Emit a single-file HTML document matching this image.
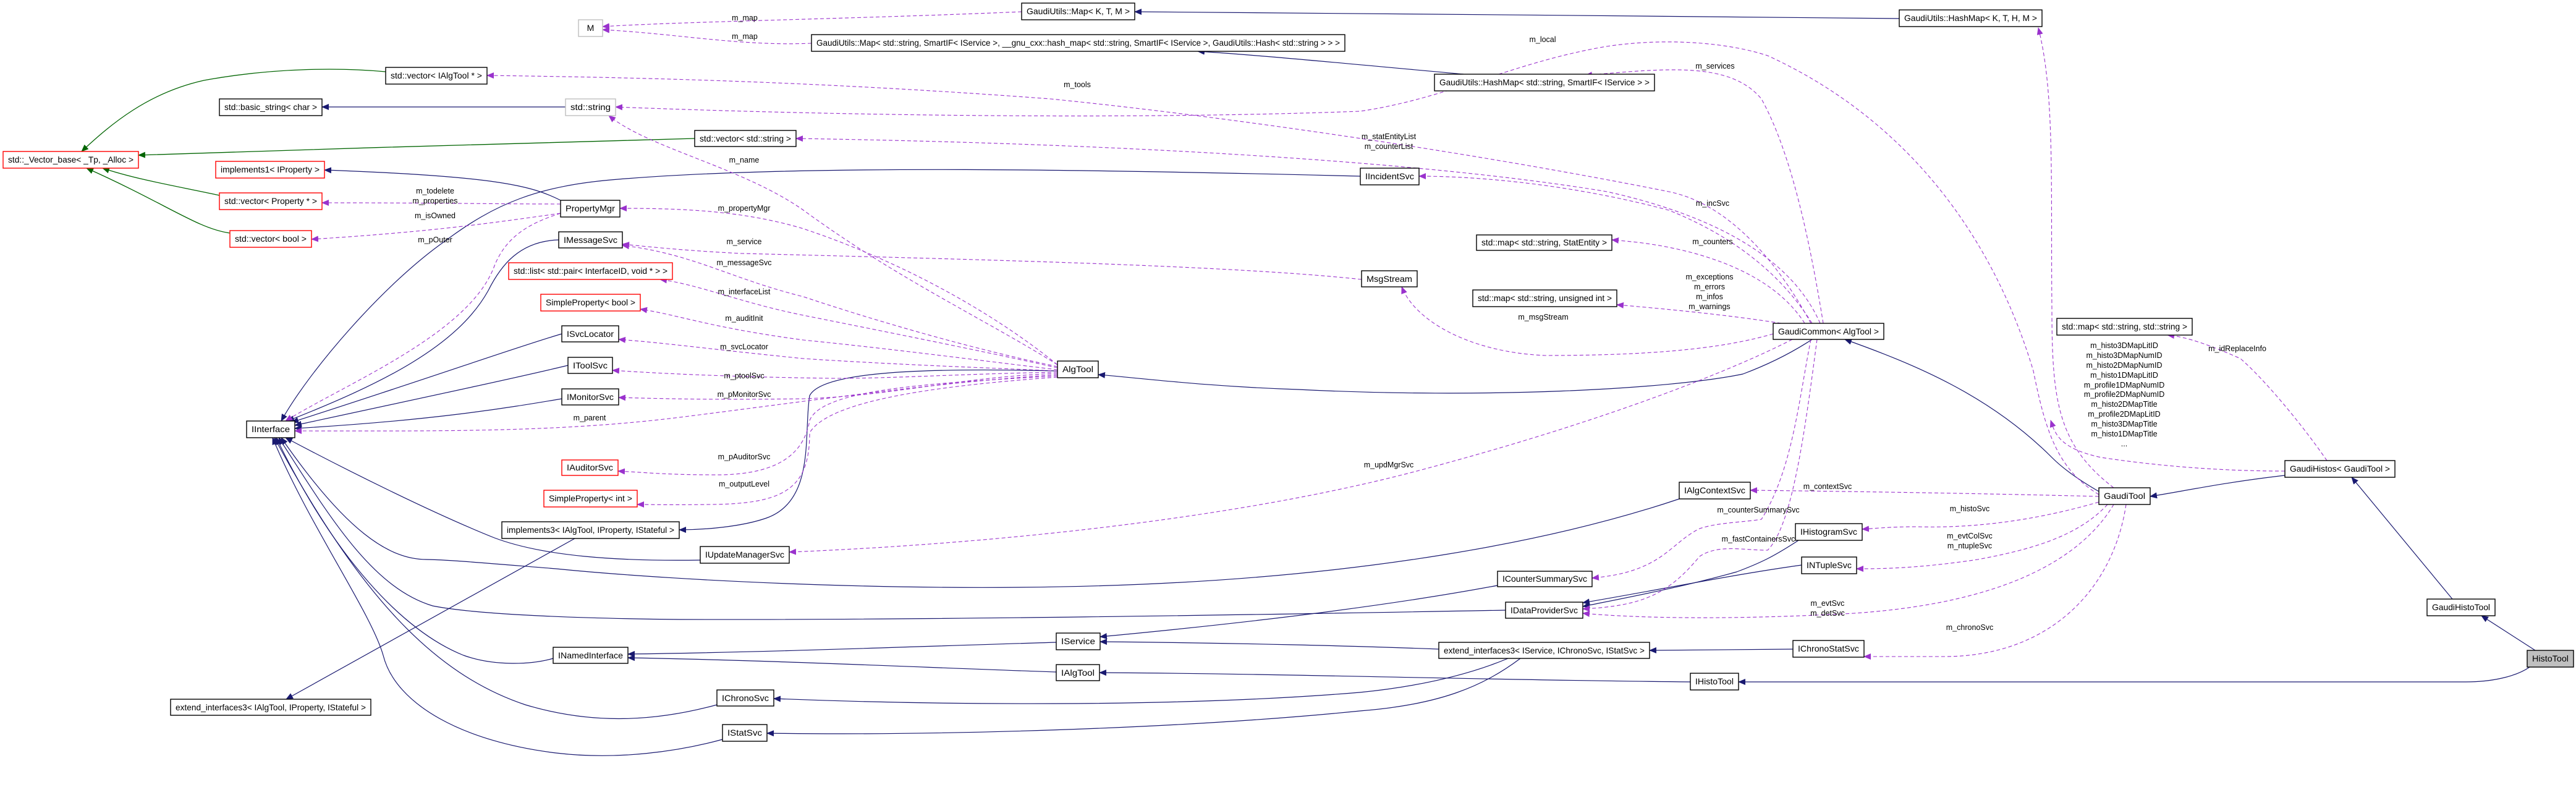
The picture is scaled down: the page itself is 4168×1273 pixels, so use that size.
<!DOCTYPE html>
<html><head><meta charset="utf-8">
<style>
html,body{margin:0;padding:0;background:#fff;}
svg{display:block;}
text{font-family:"Liberation Sans",sans-serif;}
.b{fill:#fff;stroke:#000;stroke-width:1.4;}
.g{fill:#fff;stroke:#bfbfbf;stroke-width:1.4;}
.r{fill:#fff;stroke:#ff0000;stroke-width:1.4;}
.bt{font-size:14px;fill:#000;}
.lb{font-size:12.5px;fill:#000;}
.n{fill:none;stroke:#191970;stroke-width:1.2;}
.gr{fill:none;stroke:#006400;stroke-width:1.3;}
.p{fill:none;stroke:#9a32cd;stroke-width:1.1;stroke-dasharray:6,4;}
</style></head><body>
<svg width="4168" height="1273" viewBox="0 0 4168 1273" xmlns="http://www.w3.org/2000/svg">
<defs>
<marker id="an" markerWidth="12" markerHeight="10" refX="11" refY="5" orient="auto" markerUnits="userSpaceOnUse"><path d="M0,0 L12,5 L0,10 z" fill="#191970"/></marker>
<marker id="ag" markerWidth="12" markerHeight="10" refX="11" refY="5" orient="auto" markerUnits="userSpaceOnUse"><path d="M0,0 L12,5 L0,10 z" fill="#006400"/></marker>
<marker id="ap" markerWidth="12" markerHeight="10" refX="11" refY="5" orient="auto" markerUnits="userSpaceOnUse"><path d="M0,0 L12,5 L0,10 z" fill="#9a32cd"/></marker>
</defs>

<!-- green edges -->
<g class="gr" marker-end="url(#ag)">
<path d="M624,116 C560,110 450,108 330,130 C240,150 180,200 132,245"/>
<path d="M1124,224 C900,232 500,240 224,251"/>
<path d="M355,316 C280,300 220,290 166,272"/>
<path d="M372,377 C320,370 270,330 140,272"/>
</g>

<!-- navy edges -->
<g class="n" marker-end="url(#an)">
<path d="M915,173 L521,173"/>
<path d="M907,324 C860,300 800,285 525,275"/>
<path d="M2201,285 C1800,275 1300,265 1000,290 C870,300 800,330 720,390 C620,460 500,600 455,681"/>
<path d="M904,388 C840,390 810,430 790,470 C740,560 620,620 465,681"/>
<path d="M909,540 C840,560 700,610 472,683"/>
<path d="M919,591 C840,610 700,640 477,688"/>
<path d="M909,645 C820,660 700,680 477,693"/>
<path d="M1711,600 C1500,595 1330,600 1310,640 C1300,700 1320,810 1240,838 C1200,852 1140,857 1099,857"/>
<path d="M930,871 L463,1131"/>
<path d="M1133,906 C1000,908 880,900 800,870 C700,830 560,760 462,708"/>
<path d="M2717,807 C2500,880 2200,930 1850,945 C1500,960 1100,940 900,920 C800,912 720,905 690,905 C630,905 560,860 455,708"/>
<path d="M2436,987 C2000,995 1500,1003 1100,1002 C900,1000 760,992 700,980 C600,950 530,830 451,708"/>
<path d="M895,1065 C860,1075 800,1078 750,1060 C650,1020 540,900 447,708"/>
<path d="M1160,1140 C1050,1170 950,1170 850,1140 C700,1090 580,960 444,708"/>
<path d="M1169,1196 C1100,1215 1000,1230 900,1218 C750,1200 640,1140 620,1060 C600,990 500,850 441,708"/>
<path d="M1709,1039 C1500,1045 1250,1055 1016,1058"/>
<path d="M1709,1087 C1500,1080 1250,1068 1016,1064"/>
<path d="M2328,1050 C2200,1045 2000,1040 1780,1038"/>
<path d="M2423,947 C2300,970 2100,1000 1780,1030"/>
<path d="M2440,1065 C2380,1090 2300,1110 2200,1120 C1900,1145 1500,1140 1252,1130"/>
<path d="M2460,1065 C2400,1110 2330,1140 2200,1150 C1900,1180 1500,1190 1241,1186"/>
<path d="M2901,1050 L2669,1052"/>
<path d="M2735,1103 C2400,1100 2100,1090 1779,1088"/>
<path d="M4093,1079 C4070,1095 4030,1103 3990,1103 L2813,1103"/>
<path d="M4102,1052 L4015,996"/>
<path d="M3968,969 L3805,772"/>
<path d="M3697,769 C3600,780 3530,795 3479,803"/>
<path d="M3396,795 C3370,780 3340,760 3320,740 C3220,640 3100,590 2985,549"/>
<path d="M2932,549 C2900,570 2860,590 2820,605 C2700,630 2400,645 2100,630 C1950,625 1850,612 1777,606"/>
<path d="M2910,874 C2870,900 2850,910 2810,925 C2720,950 2640,965 2561,981"/>
<path d="M2915,914 C2800,930 2680,955 2561,975"/>
<path d="M2368,120 C2200,105 2050,90 1938,83"/>
<path d="M3073,30 C2700,26 2200,22 1836,19"/>
</g>

<!-- purple dashed edges -->
<g class="p" marker-end="url(#ap)">
<path d="M1313,70 C1200,75 1100,55 975,48"/>
<path d="M1653,19 C1400,30 1100,35 975,43"/>
<path d="M2930,523 C2880,430 2800,330 2700,310 C2400,250 2000,190 1700,160 C1300,130 1000,125 788,122"/>
<path d="M3396,800 C3330,760 3310,700 3290,600 C3230,400 3100,200 2860,90 C2800,70 2700,60 2600,75 C2450,100 2340,160 2200,180 C1800,195 1300,185 996,173"/>
<path d="M2950,523 C2930,400 2900,250 2850,160 C2800,100 2700,110 2565,122"/>
<path d="M3420,789 C3330,720 3320,650 3320,500 C3318,300 3325,150 3298,45"/>
<path d="M3697,762 C3600,762 3500,755 3400,740 C3330,725 3325,700 3318,680"/>
<path d="M3765,745 C3720,680 3660,610 3625,580 C3580,560 3540,545 3507,542"/>
<path d="M2945,523 C2900,420 2780,350 2600,310 C2300,260 1800,232 1288,224"/>
<path d="M2932,523 C2880,440 2800,380 2700,340 C2550,300 2400,285 2296,285"/>
<path d="M2920,523 C2880,460 2800,420 2700,400 C2660,392 2630,390 2608,388"/>
<path d="M2882,523 C2800,510 2700,500 2616,493"/>
<path d="M2869,540 C2800,560 2700,575 2500,575 C2380,570 2290,520 2268,464"/>
<path d="M2203,452 C2000,430 1600,420 1200,410 C1100,405 1040,398 1007,395"/>
<path d="M1711,590 C1600,520 1450,450 1300,340 C1200,270 1050,240 985,187"/>
<path d="M1711,590 C1600,500 1450,420 1300,370 C1200,340 1100,337 1003,337"/>
<path d="M1711,593 C1600,570 1450,530 1300,480 C1180,450 1120,410 1007,397"/>
<path d="M1711,595 C1600,570 1450,540 1300,510 C1200,490 1130,460 1068,452"/>
<path d="M1711,598 C1600,585 1450,565 1300,550 C1150,530 1100,510 1036,500"/>
<path d="M1711,600 C1600,595 1450,590 1300,580 C1150,565 1080,555 1001,549"/>
<path d="M1711,602 C1550,605 1450,612 1350,612 C1200,610 1080,605 991,599"/>
<path d="M1711,604 C1550,610 1450,640 1300,645 C1150,647 1080,645 1001,643"/>
<path d="M1711,606 C1500,620 1300,650 1100,675 C900,700 700,697 477,697"/>
<path d="M1711,608 C1500,620 1330,630 1310,680 C1300,740 1250,770 1150,768 C1080,768 1040,764 1000,762"/>
<path d="M1711,610 C1500,625 1340,650 1310,700 C1310,790 1270,815 1150,816 C1080,817 1050,816 1031,816"/>
<path d="M907,345 C860,360 820,380 800,430 C760,540 560,620 462,681"/>
<path d="M907,330 C800,330 700,328 521,328"/>
<path d="M907,345 C800,360 700,375 504,387"/>
<path d="M2900,549 C2800,600 2600,680 2300,760 C2000,840 1600,880 1277,893"/>
<path d="M3396,803 C3200,798 3000,795 2832,793"/>
<path d="M3396,812 C3300,840 3200,855 3100,852 C3060,852 3030,855 3013,856"/>
<path d="M3410,816 C3360,870 3280,890 3200,905 C3100,920 3040,920 3004,920"/>
<path d="M3420,816 C3370,900 3250,975 3000,992 C2800,1003 2650,1000 2561,992"/>
<path d="M3440,816 C3420,950 3320,1060 3150,1062 C3080,1062 3040,1062 3016,1062"/>
<path d="M2930,549 C2910,650 2900,760 2850,840 C2820,845 2780,845 2750,855 C2700,880 2690,925 2576,935"/>
<path d="M2940,549 C2920,700 2900,850 2860,890 C2820,890 2780,880 2750,900 C2700,960 2660,980 2561,985"/>
</g>

<!-- boxes -->
<g>
<rect class="g" x="936" y="32" width="39" height="27"/><text class="bt" x="955.5" y="50" text-anchor="middle">M</text>
<rect class="b" x="1653" y="5" width="183" height="27"/><text class="bt" x="1661" y="23" textLength="167" lengthAdjust="spacingAndGlyphs">GaudiUtils::Map&lt; K, T, M &gt;</text>
<rect class="b" x="1313" y="56" width="863" height="27"/><text class="bt" x="1321" y="74" textLength="847" lengthAdjust="spacingAndGlyphs">GaudiUtils::Map&lt; std::string, SmartIF&lt; IService &gt;, __gnu_cxx::hash_map&lt; std::string, SmartIF&lt; IService &gt;, GaudiUtils::Hash&lt; std::string &gt; &gt; &gt;</text>
<rect class="b" x="3073" y="16" width="231" height="27"/><text class="bt" x="3081" y="34" textLength="215" lengthAdjust="spacingAndGlyphs">GaudiUtils::HashMap&lt; K, T, H, M &gt;</text>
<rect class="b" x="2321" y="120" width="356" height="27"/><text class="bt" x="2329" y="138" textLength="340" lengthAdjust="spacingAndGlyphs">GaudiUtils::HashMap&lt; std::string, SmartIF&lt; IService &gt; &gt;</text>
<rect class="b" x="624" y="109" width="164" height="27"/><text class="bt" x="632" y="127" textLength="148" lengthAdjust="spacingAndGlyphs">std::vector&lt; IAlgTool * &gt;</text>
<rect class="b" x="355" y="160" width="166" height="27"/><text class="bt" x="363" y="178" textLength="150" lengthAdjust="spacingAndGlyphs">std::basic_string&lt; char &gt;</text>
<rect class="g" x="915" y="160" width="81" height="27"/><text class="bt" x="923" y="178" textLength="65" lengthAdjust="spacingAndGlyphs">std::string</text>
<rect class="b" x="1124" y="211" width="164" height="26"/><text class="bt" x="1132" y="229" textLength="148" lengthAdjust="spacingAndGlyphs">std::vector&lt; std::string &gt;</text>
<rect class="r" x="5" y="245" width="219" height="27"/><text class="bt" x="13" y="263" textLength="203" lengthAdjust="spacingAndGlyphs">std::_Vector_base&lt; _Tp, _Alloc &gt;</text>
<rect class="r" x="349" y="261" width="176" height="27"/><text class="bt" x="357" y="279" textLength="160" lengthAdjust="spacingAndGlyphs">implements1&lt; IProperty &gt;</text>
<rect class="r" x="355" y="312" width="166" height="27"/><text class="bt" x="363" y="330" textLength="150" lengthAdjust="spacingAndGlyphs">std::vector&lt; Property * &gt;</text>
<rect class="b" x="907" y="324" width="96" height="27"/><text class="bt" x="915" y="342" textLength="80" lengthAdjust="spacingAndGlyphs">PropertyMgr</text>
<rect class="r" x="372" y="373" width="132" height="27"/><text class="bt" x="380" y="391" textLength="116" lengthAdjust="spacingAndGlyphs">std::vector&lt; bool &gt;</text>
<rect class="b" x="904" y="375" width="103" height="26"/><text class="bt" x="912" y="393" textLength="87" lengthAdjust="spacingAndGlyphs">IMessageSvc</text>
<rect class="r" x="823" y="425" width="265" height="27"/><text class="bt" x="831" y="443" textLength="249" lengthAdjust="spacingAndGlyphs">std::list&lt; std::pair&lt; InterfaceID, void * &gt; &gt;</text>
<rect class="r" x="875" y="476" width="161" height="27"/><text class="bt" x="883" y="494" textLength="145" lengthAdjust="spacingAndGlyphs">SimpleProperty&lt; bool &gt;</text>
<rect class="b" x="909" y="527" width="92" height="26"/><text class="bt" x="917" y="545" textLength="76" lengthAdjust="spacingAndGlyphs">ISvcLocator</text>
<rect class="b" x="919" y="578" width="72" height="26"/><text class="bt" x="927" y="596" textLength="56" lengthAdjust="spacingAndGlyphs">IToolSvc</text>
<rect class="b" x="909" y="629" width="92" height="26"/><text class="bt" x="917" y="647" textLength="76" lengthAdjust="spacingAndGlyphs">IMonitorSvc</text>
<rect class="b" x="399" y="681" width="78" height="27"/><text class="bt" x="407" y="699" textLength="62" lengthAdjust="spacingAndGlyphs">IInterface</text>
<rect class="r" x="909" y="744" width="91" height="25"/><text class="bt" x="917" y="761" textLength="75" lengthAdjust="spacingAndGlyphs">IAuditorSvc</text>
<rect class="r" x="880" y="793" width="151" height="27"/><text class="bt" x="888" y="811" textLength="135" lengthAdjust="spacingAndGlyphs">SimpleProperty&lt; int &gt;</text>
<rect class="b" x="812" y="844" width="287" height="27"/><text class="bt" x="820" y="862" textLength="271" lengthAdjust="spacingAndGlyphs">implements3&lt; IAlgTool, IProperty, IStateful &gt;</text>
<rect class="b" x="1133" y="884" width="144" height="27"/><text class="bt" x="1141" y="902" textLength="128" lengthAdjust="spacingAndGlyphs">IUpdateManagerSvc</text>
<rect class="b" x="895" y="1047" width="121" height="26"/><text class="bt" x="903" y="1065" textLength="105" lengthAdjust="spacingAndGlyphs">INamedInterface</text>
<rect class="b" x="276" y="1131" width="324" height="26"/><text class="bt" x="284" y="1149" textLength="308" lengthAdjust="spacingAndGlyphs">extend_interfaces3&lt; IAlgTool, IProperty, IStateful &gt;</text>
<rect class="b" x="1160" y="1116" width="92" height="26"/><text class="bt" x="1168" y="1134" textLength="76" lengthAdjust="spacingAndGlyphs">IChronoSvc</text>
<rect class="b" x="1169" y="1172" width="72" height="27"/><text class="bt" x="1177" y="1190" textLength="56" lengthAdjust="spacingAndGlyphs">IStatSvc</text>
<rect class="b" x="2201" y="272" width="95" height="27"/><text class="bt" x="2209" y="290" textLength="79" lengthAdjust="spacingAndGlyphs">IIncidentSvc</text>
<rect class="b" x="2389" y="380" width="219" height="25"/><text class="bt" x="2397" y="397" textLength="203" lengthAdjust="spacingAndGlyphs">std::map&lt; std::string, StatEntity &gt;</text>
<rect class="b" x="2203" y="438" width="90" height="26"/><text class="bt" x="2211" y="456" textLength="74" lengthAdjust="spacingAndGlyphs">MsgStream</text>
<rect class="b" x="2383" y="469" width="233" height="27"/><text class="bt" x="2391" y="487" textLength="217" lengthAdjust="spacingAndGlyphs">std::map&lt; std::string, unsigned int &gt;</text>
<rect class="b" x="1711" y="584" width="66" height="27"/><text class="bt" x="1719" y="602" textLength="50" lengthAdjust="spacingAndGlyphs">AlgTool</text>
<rect class="b" x="2717" y="780" width="115" height="27"/><text class="bt" x="2725" y="798" textLength="99" lengthAdjust="spacingAndGlyphs">IAlgContextSvc</text>
<rect class="b" x="2423" y="924" width="153" height="25"/><text class="bt" x="2431" y="941" textLength="137" lengthAdjust="spacingAndGlyphs">ICounterSummarySvc</text>
<rect class="b" x="2436" y="974" width="125" height="26"/><text class="bt" x="2444" y="992" textLength="109" lengthAdjust="spacingAndGlyphs">IDataProviderSvc</text>
<rect class="b" x="1709" y="1024" width="71" height="27"/><text class="bt" x="1717" y="1042" textLength="55" lengthAdjust="spacingAndGlyphs">IService</text>
<rect class="b" x="2328" y="1039" width="341" height="26"/><text class="bt" x="2336" y="1057" textLength="325" lengthAdjust="spacingAndGlyphs">extend_interfaces3&lt; IService, IChronoSvc, IStatSvc &gt;</text>
<rect class="b" x="1709" y="1075" width="70" height="26"/><text class="bt" x="1717" y="1093" textLength="54" lengthAdjust="spacingAndGlyphs">IAlgTool</text>
<rect class="b" x="2735" y="1089" width="78" height="27"/><text class="bt" x="2743" y="1107" textLength="62" lengthAdjust="spacingAndGlyphs">IHistoTool</text>
<rect class="b" x="2869" y="523" width="179" height="26"/><text class="bt" x="2877" y="541" textLength="163" lengthAdjust="spacingAndGlyphs">GaudiCommon&lt; AlgTool &gt;</text>
<rect class="b" x="3328" y="515" width="219" height="27"/><text class="bt" x="3336" y="533" textLength="203" lengthAdjust="spacingAndGlyphs">std::map&lt; std::string, std::string &gt;</text>
<rect class="b" x="3697" y="745" width="178" height="27"/><text class="bt" x="3705" y="763" textLength="162" lengthAdjust="spacingAndGlyphs">GaudiHistos&lt; GaudiTool &gt;</text>
<rect class="b" x="3396" y="789" width="83" height="27"/><text class="bt" x="3404" y="807" textLength="67" lengthAdjust="spacingAndGlyphs">GaudiTool</text>
<rect class="b" x="2905" y="847" width="108" height="27"/><text class="bt" x="2913" y="865" textLength="92" lengthAdjust="spacingAndGlyphs">IHistogramSvc</text>
<rect class="b" x="2915" y="901" width="89" height="27"/><text class="bt" x="2923" y="919" textLength="73" lengthAdjust="spacingAndGlyphs">INTupleSvc</text>
<rect class="b" x="2901" y="1036" width="115" height="27"/><text class="bt" x="2909" y="1054" textLength="99" lengthAdjust="spacingAndGlyphs">IChronoStatSvc</text>
<rect class="b" x="3927" y="969" width="110" height="27"/><text class="bt" x="3935" y="987" textLength="94" lengthAdjust="spacingAndGlyphs">GaudiHistoTool</text>
<rect x="4089" y="1052" width="75" height="27" fill="#bfbfbf" stroke="#000" stroke-width="1.4"/><text class="bt" x="4097" y="1070" textLength="59" lengthAdjust="spacingAndGlyphs">HistoTool</text>
</g>

<!-- edge labels -->
<g class="lb" text-anchor="middle">
<text x="1205" y="33">m_map</text>
<text x="1205" y="63">m_map</text>
<text x="704" y="313">m_todelete</text>
<text x="704" y="329">m_properties</text>
<text x="704" y="353">m_isOwned</text>
<text x="704" y="392">m_pOuter</text>
<text x="1204" y="263">m_name</text>
<text x="1204" y="341">m_propertyMgr</text>
<text x="1204" y="395">m_service</text>
<text x="1204" y="429">m_messageSvc</text>
<text x="1204" y="476">m_interfaceList</text>
<text x="1204" y="519">m_auditInit</text>
<text x="1204" y="565">m_svcLocator</text>
<text x="1204" y="612">m_ptoolSvc</text>
<text x="1204" y="642">m_pMonitorSvc</text>
<text x="954" y="680">m_parent</text>
<text x="1204" y="743">m_pAuditorSvc</text>
<text x="1204" y="787">m_outputLevel</text>
<text x="2496" y="68">m_local</text>
<text x="2775" y="111">m_services</text>
<text x="1743" y="141">m_tools</text>
<text x="2247" y="225">m_statEntityList</text>
<text x="2247" y="241">m_counterList</text>
<text x="2771" y="333">m_incSvc</text>
<text x="2771" y="395">m_counters</text>
<text x="2766" y="452">m_exceptions</text>
<text x="2766" y="468">m_errors</text>
<text x="2766" y="484">m_infos</text>
<text x="2766" y="500">m_warnings</text>
<text x="2497" y="517">m_msgStream</text>
<text x="2247" y="756">m_updMgrSvc</text>
<text x="2845" y="829">m_counterSummarySvc</text>
<text x="2845" y="876">m_fastContainersSvc</text>
<text x="3437" y="563">m_histo3DMapLitID</text>
<text x="3437" y="579">m_histo3DMapNumID</text>
<text x="3437" y="595">m_histo2DMapNumID</text>
<text x="3437" y="611">m_histo1DMapLitID</text>
<text x="3437" y="627">m_profile1DMapNumID</text>
<text x="3437" y="642">m_profile2DMapNumID</text>
<text x="3437" y="658">m_histo2DMapTitle</text>
<text x="3437" y="674">m_profile2DMapLitID</text>
<text x="3437" y="690">m_histo3DMapTitle</text>
<text x="3437" y="706">m_histo1DMapTitle</text>
<text x="3437" y="722">...</text>
<text x="3620" y="568">m_idReplaceInfo</text>
<text x="2957" y="791">m_contextSvc</text>
<text x="3187" y="827">m_histoSvc</text>
<text x="3187" y="871">m_evtColSvc</text>
<text x="3187" y="887">m_ntupleSvc</text>
<text x="2957" y="980">m_evtSvc</text>
<text x="2957" y="996">m_detSvc</text>
<text x="3187" y="1019">m_chronoSvc</text>
</g>
</svg>
</body></html>
